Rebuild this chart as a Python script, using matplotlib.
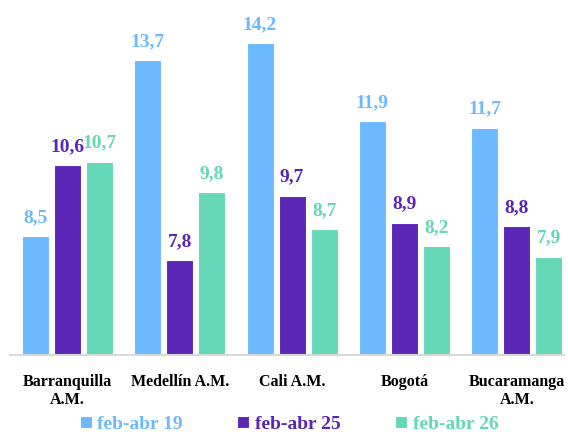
import matplotlib
matplotlib.use("Agg")
import matplotlib.pyplot as plt
import numpy as np

# Data
categories = ["Barranquilla\nA.M.", "Medellín A.M.", "Cali A.M.", "Bogotá", "Bucaramanga\nA.M."]
series_names = ["feb-abr 19", "feb-abr 25", "feb-abr 26"]
vals_19 = [8.5, 13.7, 14.2, 11.9, 11.7]
vals_25 = [10.6, 7.8, 9.7, 8.9, 8.8]
vals_26 = [10.7, 9.8, 8.7, 8.2, 7.9]

colors = ["#6DB9FF", "#5B25B5", "#64D8B6"]

plt.rcParams['font.family'] = ['Liberation Serif']

fig = plt.figure(figsize=(5.68, 4.36), dpi=100)
ax = fig.add_axes([0.018, 0.186, 0.975, 0.814])

x = np.arange(len(categories))
width = 0.24
offset = 0.286

for i, (vals, name) in enumerate(zip([vals_19, vals_25, vals_26], series_names)):
    pos = x + (i - 1) * offset
    ax.bar(pos, vals, width=width, bottom=0, color=colors[i],
           edgecolor='white', linewidth=0.8, label=name)
    for xp, v in zip(pos, vals):
        ax.text(xp, v + 0.3, f"{v:.1f}".replace('.', ','), ha='center', va='bottom',
                color=colors[i], fontsize=14, fontweight='bold')

ax.set_ylim(5, 15.47)
ax.set_xlim(-0.51, 4.42)
ax.set_yticks([])
ax.set_xticks(x)
ax.set_xticklabels(categories, fontsize=11.5, fontweight='bold', linespacing=1.15)
ax.tick_params(axis='x', length=0, pad=14)
for s in ['top', 'right', 'left']:
    ax.spines[s].set_visible(False)
ax.spines['bottom'].set_color('#D9D9D9')
ax.spines['bottom'].set_linewidth(1.5)

leg = fig.legend(loc='lower center', ncol=3, bbox_to_anchor=(0.509, -0.02), frameon=False,
                 handlelength=0.6, handleheight=0.6, handletextpad=0.3, columnspacing=2.8,
                 borderaxespad=0.2, prop={'weight': 'bold', 'size': 14})
for text, c in zip(leg.get_texts(), colors):
    text.set_color(c)

fig.savefig("out.png", dpi=100)
